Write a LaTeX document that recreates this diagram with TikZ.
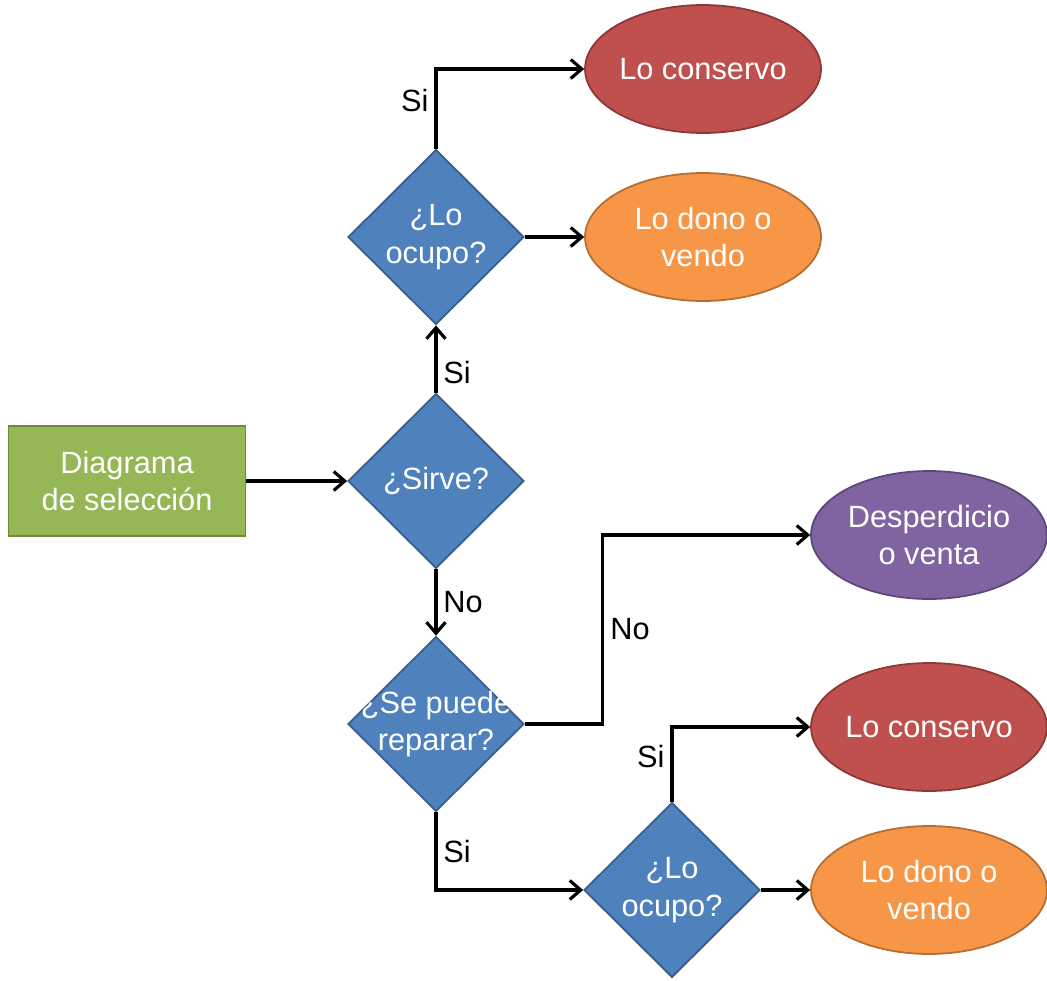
\documentclass[tikz,border=0pt]{standalone}
\usepackage{fontspec}
\setmainfont{Liberation Sans}
\usetikzlibrary{shapes.geometric,arrows.meta}

\definecolor{verde}{HTML}{95B755}
\definecolor{verdeB}{HTML}{71893F}
\definecolor{azul}{HTML}{4F81BD}
\definecolor{azulB}{HTML}{385D8A}
\definecolor{rojo}{HTML}{C0504D}
\definecolor{rojoB}{HTML}{8C3836}
\definecolor{naranja}{HTML}{F79646}
\definecolor{naranjaB}{HTML}{B66D31}
\definecolor{morado}{HTML}{8064A2}
\definecolor{moradoB}{HTML}{5C4776}

\tikzset{
  txt/.style={text=white, align=center},
  inicio/.style={rectangle, draw=verdeB, fill=verde, line width=1pt,
    minimum width=4.74cm, minimum height=2.2cm, txt},
  dec/.style={diamond, draw=azulB, fill=azul, line width=1pt,
    minimum width=3.52cm, minimum height=3.5cm, inner sep=0pt,
    label={[txt]center:{#1}}},
  fin/.style={ellipse, draw=#1B, fill=#1, line width=1pt,
    minimum width=4.72cm, minimum height=2.56cm, inner ysep=0pt,
    inner xsep=-0.25cm, txt},
  flecha/.style={-{Straight Barb[length=2.2mm,width=3.8mm]}, line width=1.8pt}
}

\begin{document}
\begin{tikzpicture}[x=0.02cm, y=-0.02cm, font=\fontsize{17.5}{21.5}\selectfont]
\useasboundingbox (0,0) rectangle (1047,980);

\node[inicio] (d) at (127,481) {Diagrama\\de selección};
\node[dec={¿Sirve?}] (s) at (436,481) {};
\node[dec={¿Lo\\ocupo?}] (o1) at (436,237) {};
\node[fin=rojo] (c1) at (703,69) {Lo conservo};
\node[fin=naranja] (v1) at (703,237) {Lo dono o\\vendo};
\node[dec={¿Se puede\\reparar?}] (r) at (436,724) {};
\node[fin=morado] (w) at (929,535) {Desperdicio\\o venta};
\node[fin=rojo] (c2) at (929,727) {Lo conservo};
\node[dec={¿Lo\\ocupo?}] (o2) at (672,890) {};
\node[fin=naranja] (v2) at (929,890) {Lo dono o\\vendo};

\path[flecha]
(d) edge (s)
(s) edge node[right, pos=0.3] {Si} (o1)
    edge node[right] {No} (r)
(o1) edge (v1)
(o2) edge (v2);

\draw[flecha] (o1.north) |- node[left, pos=0.3] {Si} (c1.west);
\draw[flecha] (r.east) -- ++(78,0) |- node[right, pos=0.25] {No} (w.west);
\draw[flecha] (r.south) |- node[right, pos=0.25] {Si} (o2.west);
\draw[flecha] (o2.north) |- node[left, pos=0.3] {Si} (c2.west);
\end{tikzpicture}
\end{document}
